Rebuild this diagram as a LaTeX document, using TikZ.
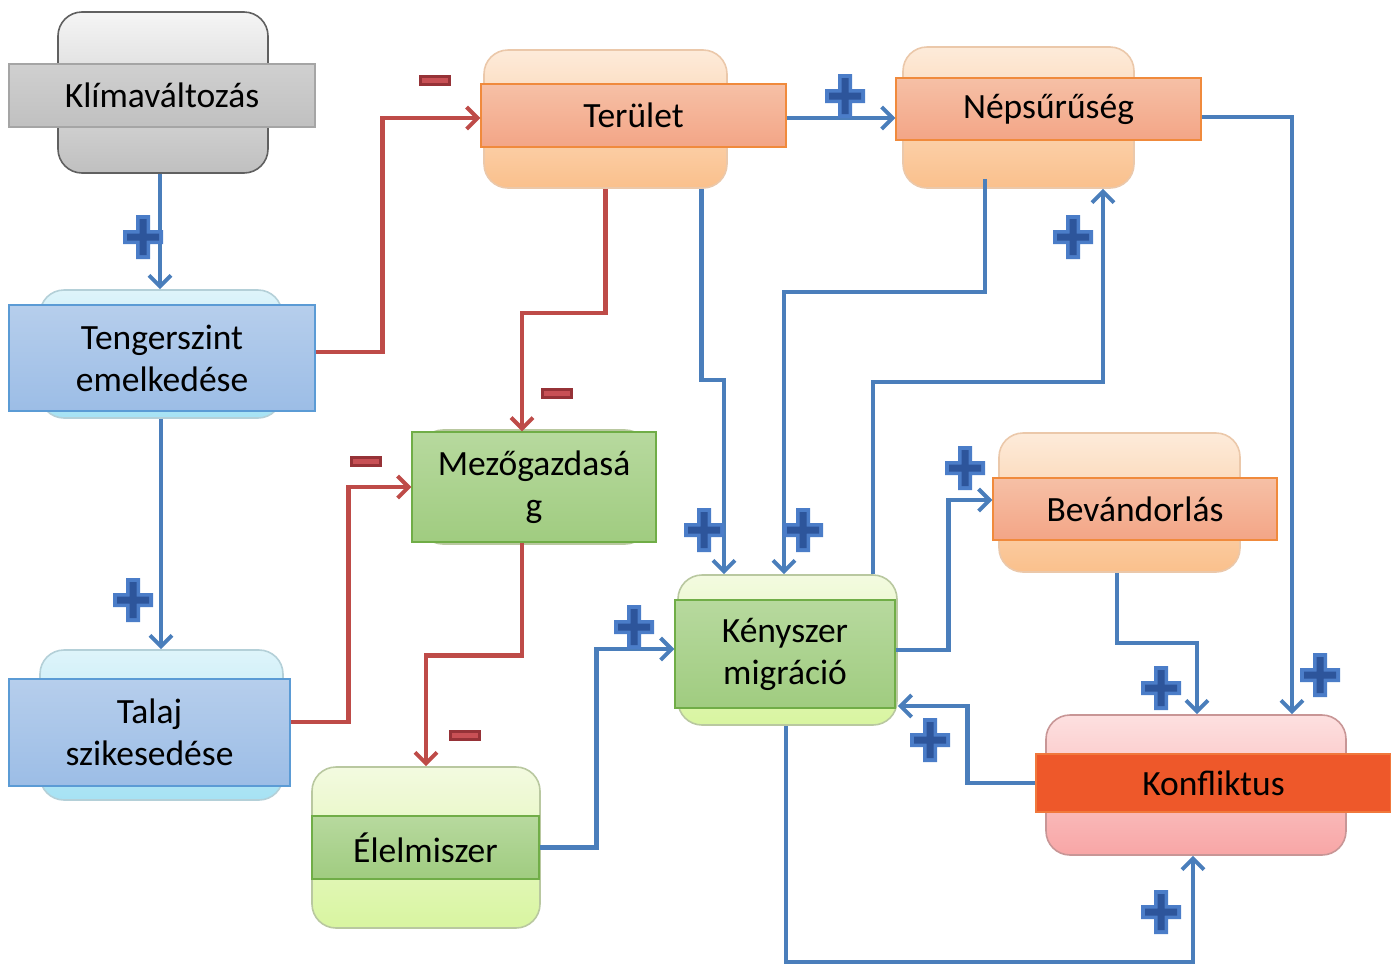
\documentclass[tikz,border=0pt]{standalone}
\usepackage{fontspec}
\setmainfont{Carlito}
\usetikzlibrary{arrows.meta}
\definecolor{lineblue}{HTML}{4A7EBB}
\definecolor{linered}{HTML}{BE4B48}
\definecolor{orTop}{RGB}{253,235,218}
\definecolor{orBot}{RGB}{250,192,140}
\definecolor{orDraw}{RGB}{235,200,170}
\definecolor{cyTop}{RGB}{222,244,250}
\definecolor{cyBot}{RGB}{166,226,244}
\definecolor{cyDraw}{RGB}{180,208,216}
\definecolor{grTop}{RGB}{243,250,224}
\definecolor{grBot}{RGB}{216,245,160}
\definecolor{grDraw}{RGB}{185,200,160}
\definecolor{pkTop}{RGB}{253,224,224}
\definecolor{pkBot}{RGB}{248,166,166}
\definecolor{pkDraw}{RGB}{200,150,150}
\definecolor{saTop}{RGB}{246,192,166}
\definecolor{saBot}{RGB}{243,165,134}
\definecolor{saDraw}{RGB}{240,138,60}
\definecolor{blTop}{RGB}{182,206,236}
\definecolor{blBot}{RGB}{156,189,230}
\definecolor{blDraw}{RGB}{91,155,213}
\definecolor{glTop}{RGB}{183,217,158}
\definecolor{glBot}{RGB}{160,204,128}
\definecolor{glDraw}{RGB}{112,173,71}
\definecolor{kfFill}{RGB}{238,88,42}
\definecolor{kfDraw}{RGB}{240,120,60}
\definecolor{gyTop}{RGB}{208,208,208}
\definecolor{gyBot}{RGB}{192,192,192}
\definecolor{gyDraw}{RGB}{165,165,165}
\definecolor{plusDark}{RGB}{45,85,155}
\definecolor{plusLight}{RGB}{75,125,200}
\definecolor{minDark}{RGB}{150,50,55}
\definecolor{minLight}{RGB}{200,80,85}
\tikzset{
  bgbox/.style={rounded corners=24pt, line width=1.6pt, inner sep=0pt},
  lab/.style={rectangle, line width=1.2pt, inner sep=0pt, align=center,
     font=\fontsize{35.5}{42}\selectfont, text=black},
  graybg/.style={bgbox, top color=gray!8, bottom color=gray!50, draw=gray!75!black},
  orangebg/.style={bgbox, top color=orTop, bottom color=orBot, draw=orDraw},
  cyanbg/.style={bgbox, top color=cyTop, bottom color=cyBot, draw=cyDraw},
  greenbg/.style={bgbox, top color=grTop, bottom color=grBot, draw=grDraw},
  pinkbg/.style={bgbox, top color=pkTop, bottom color=pkBot, draw=pkDraw},
  graylab/.style={lab, top color=gyTop, bottom color=gyBot, draw=gyDraw},
  salmonlab/.style={lab, top color=saTop, bottom color=saBot, draw=saDraw},
  bluelab/.style={lab, top color=blTop, bottom color=blBot, draw=blDraw},
  greenlab/.style={lab, top color=glTop, bottom color=glBot, draw=glDraw},
  redlab/.style={lab, fill=kfFill, draw=kfDraw},
  conn/.style={line width=4.3pt, -{Straight Barb[length=11pt,width=22pt,line width=4pt]}},
  posarrow/.style={conn, draw=lineblue},
  negarrow/.style={conn, draw=linered},
  plussign/.pic={
    \fill[plusLight] (-7,-22) -- (7,-22) -- (7,-7) -- (20,-7) -- (20,7) -- (7,7) -- (7,22) -- (-7,22) -- (-7,7) -- (-20,7) -- (-20,-7) -- (-7,-7) -- cycle;
    \fill[plusDark] (-3.5,-18) -- (3.5,-18) -- (3.5,-3.5) -- (16,-3.5) -- (16,3.5) -- (3.5,3.5) -- (3.5,18) -- (-3.5,18) -- (-3.5,3.5) -- (-16,3.5) -- (-16,-3.5) -- (-3.5,-3.5) -- cycle;
  },
  minussign/.pic={
    \fill[minDark] (-16,-5.5) rectangle (16,5.5);
    \fill[minLight] (-13,-2.5) rectangle (13,2.5);
  }
}
\begin{document}
\begin{tikzpicture}[x=1pt,y=-1pt]
\useasboundingbox (0,0) rectangle (1391,967);
% background rounded boxes
\node[graybg, minimum width=210pt, minimum height=161pt] (bg1) at (163,92.5) {};
\node[orangebg, minimum width=243pt, minimum height=138pt] (bg2) at (605.5,119) {};
\node[orangebg, minimum width=231pt, minimum height=141pt] (bg3) at (1018.5,117.5) {};
\node[cyanbg, minimum width=242pt, minimum height=128pt] (bg4) at (161,354) {};
\node[greenbg, minimum width=230pt, minimum height=114pt] (bg5) at (534,487) {};
\node[greenbg, minimum width=228pt, minimum height=161pt] (bg6) at (426,847.5) {};
\node[greenbg, minimum width=219pt, minimum height=150pt] (bg7) at (787.5,650) {};
\node[orangebg, minimum width=241pt, minimum height=139pt] (bg8) at (1119.5,502.5) {};
\node[cyanbg, minimum width=243pt, minimum height=150pt] (bg9) at (161.5,725) {};
\node[pinkbg, minimum width=300pt, minimum height=140pt] (bg10) at (1196,785) {};
% labels
\node[graylab, minimum width=306pt, minimum height=63pt] (lab1) at (162,95.5) {Klímaváltozás};
\node[salmonlab, minimum width=305pt, minimum height=63pt] (lab2) at (633.5,115.5) {Terület};
\node[salmonlab, minimum width=305pt, minimum height=62pt] (lab3) at (1048.5,109) {Népsűrűség};
\node[bluelab, minimum width=306pt, minimum height=106pt] (lab4) at (162,358) {Tengerszint\\emelkedése};
\node[greenlab, minimum width=244pt, minimum height=110pt] (lab5) at (534,487) {Mezőgazdasá\\g};
\node[greenlab, minimum width=227pt, minimum height=63pt] (lab6) at (425.5,847.5) {Élelmiszer};
\node[greenlab, minimum width=220pt, minimum height=108pt] (lab7) at (785,654) {Kényszer\\migráció};
\node[salmonlab, minimum width=284pt, minimum height=62pt] (lab8) at (1135,509) {Bevándorlás};
\node[bluelab, minimum width=281pt, minimum height=107pt] (lab9) at (149.5,732.5) {Talaj\\szikesedése};
\node[redlab, minimum width=355pt, minimum height=58pt] (lab10) at (1213.5,783) {Konfliktus};
% connectors
\draw[posarrow] ([xshift=-3pt]bg1.south) -- ([xshift=-3pt]bg1.south |- bg4.north);
\draw[posarrow] (bg4.south) -- (bg4.south |- bg9.north);
\draw[negarrow] ([yshift=6pt]lab4.east) -- ++(67,0) |- ([yshift=-2.5pt]lab2.west);
\draw[negarrow] ([yshift=10.5pt]lab9.east) -- ++(58,0) |- (lab5.west);
\draw[negarrow] (bg2.south) -- ++(0,124) -| ([xshift=-12pt]lab5.north);
\draw[negarrow] ([xshift=-12pt]lab5.south) -- ++(0,113) -| (bg6.north);
\draw[posarrow] (lab6.east) -- ++(57,0) |- ([yshift=5pt]lab7.west);
\draw[posarrow] ([xshift=96pt]bg2.south) -- ([xshift=96pt]bg2.south |- 0,380) -| ([xshift=-63.5pt]bg7.north);
\draw[posarrow] ([xshift=-33.5pt,yshift=10pt]bg3.south) -- ([xshift=-33.5pt]bg3.south |- 0,292) -| ([xshift=-3.5pt]bg7.north);
\draw[posarrow] ([yshift=-2.5pt]lab2.east) -- ([yshift=-2.5pt]lab2.east -| lab3.west);
\draw[posarrow] ([xshift=85.5pt]bg7.north) -- ([xshift=85.5pt]bg7.north |- 0,382) -| ([xshift=84.5pt]bg3.south);
\draw[posarrow] ([yshift=4pt]lab7.east) -- ++(53,0) |- ([yshift=9pt]lab8.west);
\draw[posarrow] ([xshift=-2.5pt]bg8.south) -- ([xshift=-2.5pt]bg8.south |- 0,643) -| ([xshift=1pt]bg10.north);
\draw[posarrow] ([yshift=-8pt]lab3.east) -| ([xshift=96pt]bg10.north);
\draw[posarrow] (lab10.west) -- ++(-68,0) |- ([yshift=-56pt]bg7.east);
\draw[posarrow] ([xshift=-1.5pt]bg7.south) -- ([xshift=-1.5pt]bg7.south |- 0,962) -| ([xshift=-3pt]bg10.south);
% signs
\pic at (143,237) {plussign};
\pic at (133,600) {plussign};
\pic at (845,96) {plussign};
\pic at (1073,237) {plussign};
\pic at (704,530) {plussign};
\pic at (803,530) {plussign};
\pic at (634,627) {plussign};
\pic at (965,468) {plussign};
\pic at (1161,688) {plussign};
\pic at (1320,675) {plussign};
\pic at (930,740) {plussign};
\pic at (1161,912) {plussign};
\pic at (435,80) {minussign};
\pic at (366,461) {minussign};
\pic at (557,393) {minussign};
\pic at (465,735) {minussign};
\end{tikzpicture}
\end{document}
